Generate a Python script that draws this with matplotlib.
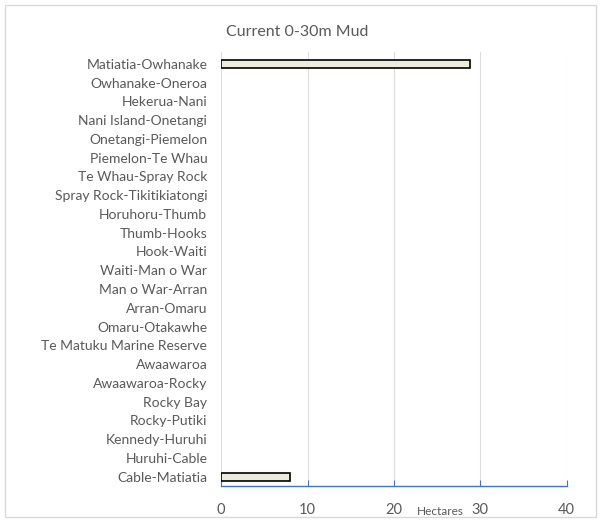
import numpy as np
import matplotlib.pyplot as plt
from matplotlib.patches import Rectangle

# data
sites = ['Matiatia-Owhanake', 'Owhanake-Oneroa', 'Hekerua-Nani', 'Nani Island-Onetangi',
         'Onetangi-Piemelon', 'Piemelon-Te Whau', 'Te Whau-Spray Rock',
         'Spray Rock-Tikitikiatongi', 'Horuhoru-Thumb', 'Thumb-Hooks', 'Hook-Waiti',
         'Waiti-Man o War', 'Man o War-Arran', 'Arran-Omaru', 'Omaru-Otakawhe',
         'Te Matuku Marine Reserve', 'Awaawaroa', 'Awaawaroa-Rocky', 'Rocky Bay',
         'Rocky-Putiki', 'Kennedy-Huruhi', 'Huruhi-Cable', 'Cable-Matiatia']
hectares = [28.8, 0, 0, 0, 0, 0, 0, 0, 0, 0, 0, 0, 0, 0, 0, 0, 0, 0, 0, 0, 0, 0, 8.0]
xticks = [0, 10, 20, 30, 40]

plt.rcParams['font.family'] = ['Lato', 'DejaVu Sans']
grey = '#595959'

fig = plt.figure(figsize=(6.01, 5.22), dpi=100)
ax = fig.add_axes([0.368, 0.069, 0.575, 0.831])

y = np.arange(len(sites))
# zero-valued bars get no outline
edges = ['black' if v > 0 else 'none' for v in hectares]
ax.barh(y, hectares, height=0.42, color='#ECEBDC', edgecolor=edges, linewidth=1.2, zorder=3)

ax.set_xlim(0, 40)
ax.set_ylim(22.5, -0.62)
ax.set_yticks(y)
ax.set_yticklabels(sites, fontsize=10, color=grey)
ax.set_xticks(xticks)
ax.set_xticklabels([str(t) for t in xticks], fontsize=10.5, color=grey)
ax.tick_params(axis='y', length=0, pad=10)
ax.tick_params(axis='x', length=4, direction='in', color='#4472C4', pad=12)

ax.grid(axis='x', color='#DCDCDC', linewidth=0.8, zorder=0)
for s in ['top', 'right', 'left']:
    ax.spines[s].set_visible(False)
ax.spines['bottom'].set_color('#4472C4')
ax.spines['bottom'].set_linewidth(1.0)

fig.text(0.495, 0.938, 'Current 0-30m Mud', ha='center', va='center', fontsize=11.5, color=grey)
fig.text(0.732, 0.02, 'Hectares', ha='center', va='center', fontsize=8.5, color=grey)

fig.patches.append(Rectangle((0.008, 0.01), 0.984, 0.98, transform=fig.transFigure,
                             fill=False, edgecolor='#D9D9D9', linewidth=1.0))

fig.savefig('out.png', dpi=100)
